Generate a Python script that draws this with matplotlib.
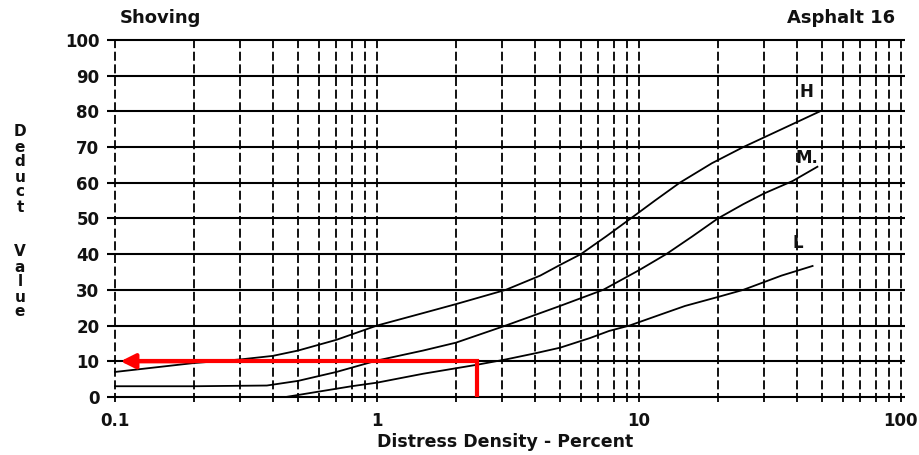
import matplotlib
matplotlib.use("Agg")
import matplotlib.pyplot as plt

# deduct curves (distress density %, deduct value)
h_x = [0.1, 0.2, 0.3, 0.4, 0.5, 0.7, 1.0, 1.5, 2.0, 3.1, 4.2, 5.0, 6.0, 7.5, 9.3, 11.5, 14.3, 19, 25, 35, 49]
h_y = [7, 9.5, 10.5, 11.5, 13, 16, 20, 23.5, 26, 30, 34, 37, 40, 45, 50, 55, 60, 65.5, 70, 75, 80]

m_x = [0.1, 0.2, 0.38, 0.5, 0.7, 1.0, 1.5, 2.0, 3.1, 5.0, 7.3, 10, 12.7, 16, 20, 25, 30, 38.6, 48]
m_y = [3, 3, 3.2, 4.5, 7, 10.2, 13, 15.2, 20, 25.5, 30, 35.5, 40, 45, 50, 54, 57, 60.5, 64.5]

l_x = [0.45, 0.6, 0.8, 1.0, 1.5, 2.4, 3.1, 4.0, 5.0, 6.5, 7.7, 9.2, 12, 15, 20, 25, 35, 46]
l_y = [0, 1.5, 3, 4, 6.5, 9, 10.5, 12.2, 13.8, 16.5, 18.5, 20, 23, 25.5, 28, 30, 34, 36.7]

curve_labels = ["H", "M.", "L"]
label_x = [43.7, 43.7, 40.5]
label_y = [85.4, 67, 43]

y_ticks = list(range(0, 101, 10))
x_ticks = [0.1, 1, 10, 100]
x_ticklabels = ["0.1", "1", "10", "100"]
decades = [0.1, 1, 10]

# red reading arrow: density 2.4 % -> deduct 10
read_x = 2.4
read_y = 10
arrow_tip = 0.105

fig = plt.figure(figsize=(9.19, 4.55), dpi=100)
ax = fig.add_axes([105 / 919, 0.1119, 803 / 919, 0.804])
ax.set_xscale("log")
ax.set_xlim(10 ** -1.038, 10 ** 2.027)
ax.set_ylim(-2, 100.5)
for s in ax.spines.values():
    s.set_visible(False)

# paper grid
ax.hlines(y_ticks, 10 ** -1.0305, 10 ** 2.015, color="black", lw=1.5)
grid_x = [k * d for d in decades for k in range(1, 10)] + [100]
ax.vlines(grid_x, -1.5, 100, color="black", lw=1.3, linestyles=(0, (5, 2)))

for xs, ys in [(h_x, h_y), (m_x, m_y), (l_x, l_y)]:
    ax.plot(xs, ys, color="black", lw=1.3)

for t, x, y in zip(curve_labels, label_x, label_y):
    ax.text(x, y, t, fontsize=12, fontweight="bold", ha="center", va="center",
            color="#111111")

ax.plot([read_x, read_x, 0.12], [0, read_y, read_y], color="#ff0000", lw=3,
        solid_joinstyle="miter", solid_capstyle="butt")
ax.annotate("", xy=(arrow_tip, read_y), xytext=(0.2, read_y),
            arrowprops=dict(arrowstyle="-|>", color="#ff0000", lw=3,
                            mutation_scale=22, shrinkA=0, shrinkB=0))

ax.set_yticks(y_ticks)
ax.set_yticklabels([str(v) for v in y_ticks])
ax.set_xticks(x_ticks)
ax.set_xticklabels(x_ticklabels)
ax.minorticks_off()
ax.tick_params(axis="y", length=0, pad=4, labelsize=12)
ax.tick_params(axis="x", length=0, pad=6, labelsize=12)
for lab in ax.get_xticklabels() + ax.get_yticklabels():
    lab.set_fontweight("bold")
    lab.set_color("#111111")

fig.text(120 / 919, 1 - 18 / 455, "Shoving", fontsize=13, fontweight="bold",
         ha="left", va="center", color="#111111")
fig.text(895 / 919, 1 - 18 / 455, "Asphalt 16", fontsize=13, fontweight="bold",
         ha="right", va="center", color="#111111")
fig.text(20 / 919, 1 - 222 / 455, "\n".join("Deduct Value".replace(" ", "\n")),
         fontsize=11, fontweight="bold", ha="center", va="center",
         linespacing=1.0, color="#111111")
fig.text(505 / 919, 1 - 442 / 455, "Distress Density - Percent", fontsize=12.5,
         fontweight="bold", ha="center", va="center", color="#111111")

fig.savefig("out.png", dpi=100)
